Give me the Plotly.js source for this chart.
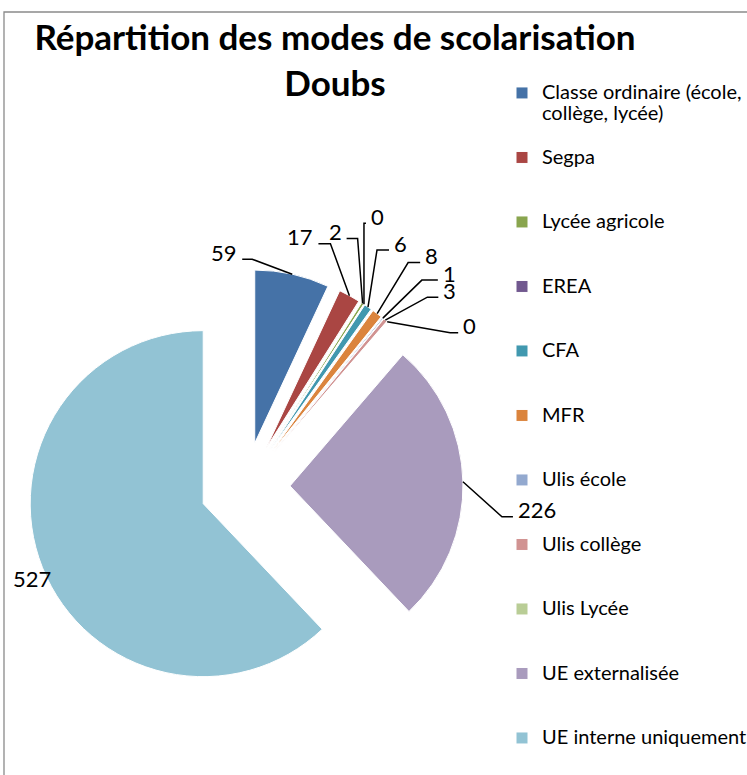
<!DOCTYPE html>
<html><head><meta charset="utf-8">
<script src="https://cdn.plot.ly/plotly-3.0.1.min.js"></script>
<style>html,body{margin:0;padding:0;background:#fff;} #chart{width:747px;height:775px;}</style>
</head><body><div id="chart"></div>
<script>
// ---- data ----
const categories = ["Classe ordinaire (école, collège, lycée)", "Segpa", "Lycée agricole", "EREA", "CFA", "MFR",
  "Ulis école", "Ulis collège", "Ulis Lycée", "UE externalisée", "UE interne uniquement"];
const legendText = ["Classe ordinaire (école,<br>collège, lycée)", "Segpa", "Lycée agricole", "EREA", "CFA", "MFR",
  "Ulis école", "Ulis collège", "Ulis Lycée", "UE externalisée", "UE interne uniquement"];
const values = [59, 17, 2, 0, 6, 8, 1, 3, 0, 226, 527];
const colors = ["#4572A7", "#AA4643", "#89A54E", "#71588F", "#4198AF", "#DB843D",
  "#93A9CF", "#D19392", "#B9CD96", "#A99BBD", "#92C3D4"];
const chartTitle = "Répartition des modes de scolarisation<br>Doubs";

// ---- label placement (pixels): [elbowDx, elbowDy, arm, drawLine] ----
const labelPlacement = [
  [-40, -15, -10, true],
  [-19, -52, -12, true],
  [-5, -65, -11, true],
  [0, -81, 2, true],
  [9, -57, 12, true],
  [31, -51, 12, true],
  [39, -38, 16, true],
  [42, -23, 11, true],
  [63, 11, 8, true],
  [39, 35, 11, true],
  [-10, 11, 0, false]
];

const W = 747, H = 775;
const dom = {x: [0.036145, 0.619813], y: [0.090323, 0.652903]};
const pull = 0.26;
const FONT = "Lato, 'Open Sans', sans-serif";

// geometry mirroring the pie's own layout
const boxW = W * (dom.x[1] - dom.x[0]), boxH = H * (dom.y[1] - dom.y[0]);
const r = Math.min(boxW, boxH) / 2 / (1 + pull);
const cx = W * (dom.x[0] + dom.x[1]) / 2;
const cy = H * (1 - (dom.y[0] + dom.y[1]) / 2);
const total = values.reduce((a, b) => a + b, 0);

const px2x = p => p / W, px2y = p => 1 - p / H;
const annotations = [], shapes = [];
let cum = 0;
values.forEach((v, i) => {
  const mid = (cum + v / 2) / total * 2 * Math.PI;
  cum += v;
  const ux = Math.sin(mid), uy = -Math.cos(mid);
  const ax = cx + (r * (1 + pull)) * ux, ay = cy + (r * (1 + pull)) * uy;
  const [dx, dy, arm, line] = labelPlacement[i];
  const px = ax + dx, py = ay + dy;
  if (line) {
    const qx = px + arm;
    shapes.push({type: 'path', xref: 'paper', yref: 'paper',
      path: `M ${px2x(ax)},${px2y(ay)} L ${px2x(px)},${px2y(py)} L ${px2x(qx)},${px2y(py)}`,
      line: {color: '#000', width: 1.5}});
    annotations.push({xref: 'paper', yref: 'paper', x: px2x(qx + (arm >= 0 ? 4 : -4)), y: px2y(py - 7),
      xanchor: arm >= 0 ? 'left' : 'right', yanchor: 'middle', showarrow: false, borderpad: 0,
      text: String(v), font: {family: FONT, size: 22, color: '#000'}});
  } else {
    annotations.push({xref: 'paper', yref: 'paper', x: px2x(px), y: px2y(py),
      xanchor: 'center', yanchor: 'middle', showarrow: false, borderpad: 0,
      text: String(v), font: {family: FONT, size: 22, color: '#000'}});
  }
});

// outer chart frame
shapes.push({type: 'rect', xref: 'paper', yref: 'paper', x0: 4 / W, x1: 1.02, y0: -0.02, y1: 1 - 12 / H,
  line: {color: '#8a8a8a', width: 1.3}, layer: 'below'});

const legendLabels = legendText.map(t => {
  const parts = t.split('<br>').map(s => `<span style="font-size:20px">${s}</span>`);
  while (parts.length < 3) parts.push('\u00a0');
  return parts.join('<br>');
});

const trace = {
  type: 'pie',
  labels: legendLabels,
  values: values,
  sort: false,
  direction: 'clockwise',
  rotation: 0,
  pull: pull,
  domain: dom,
  textinfo: 'none',
  hoverinfo: 'none',
  marker: {colors: colors, line: {color: '#ffffff', width: 1}},
  showlegend: true
};

const layout = {
  width: W, height: H,
  margin: {l: 0, r: 0, t: 0, b: 0, autoexpand: false},
  paper_bgcolor: '#fff', plot_bgcolor: '#fff',
  title: {text: chartTitle, x: 335 / W, xref: 'paper', xanchor: 'center',
    y: 1 - 50 / H, yref: 'container', yanchor: 'top',
    font: {family: FONT, size: 35, color: '#000', weight: 'bold'}},
  legend: {x: 502 / W, y: 1 - 76.2 / H, xanchor: 'left', yanchor: 'top', valign: 'top',
    font: {family: FONT, size: 15.77, color: '#000'}, bgcolor: 'rgba(0,0,0,0)', borderwidth: 0},
  annotations: annotations,
  shapes: shapes
};

Plotly.newPlot('chart', [trace], layout, {displayModeBar: false, staticPlot: true});
</script>
</body></html>
